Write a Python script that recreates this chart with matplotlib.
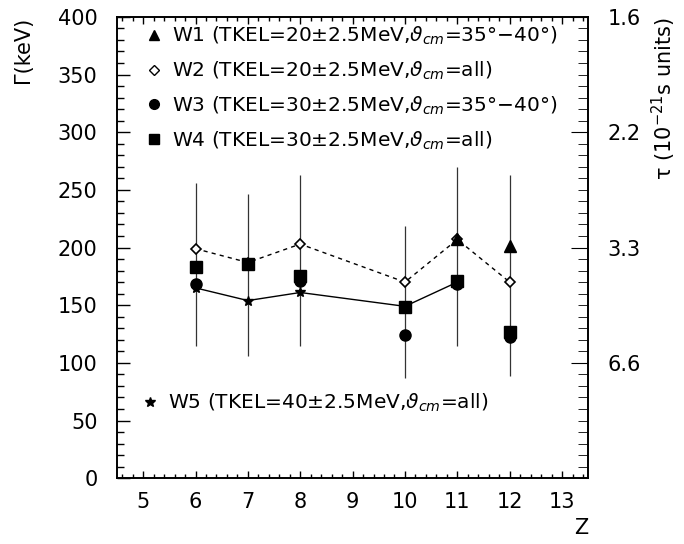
import matplotlib
matplotlib.use("Agg")
import matplotlib.pyplot as plt
from matplotlib.lines import Line2D
from matplotlib.ticker import MultipleLocator, FixedLocator

# data
z_err = [6, 7, 8, 10, 11, 12]
err_lo = [115, 106, 115, 87, 115, 89]
err_hi = [256, 246, 263, 219, 270, 263]

z_w1 = [11, 12]
gamma_w1 = [207, 201]

z_w2 = [6, 7, 8, 10, 11, 12]
gamma_w2 = [199, 187, 203, 170, 207, 170]

z_w3 = [6, 8, 10, 11, 12]
gamma_w3 = [168, 171, 124, 168, 122]

z_w4 = [6, 7, 8, 10, 11, 12]
gamma_w4 = [183, 186, 175, 148, 171, 127]

z_w5 = [6, 7, 8, 10, 11]
gamma_w5 = [165, 154, 161, 149, 170]

tau_ticks = [400, 300, 200, 100]
tau_labels = ["1.6", "2.2", "3.3", "6.6"]

labels = [
    r"W1 (TKEL=20$\pm$2.5MeV,$\vartheta_{cm}$=35°$-$40°)",
    r"W2 (TKEL=20$\pm$2.5MeV,$\vartheta_{cm}$=all)",
    r"W3 (TKEL=30$\pm$2.5MeV,$\vartheta_{cm}$=35°$-$40°)",
    r"W4 (TKEL=30$\pm$2.5MeV,$\vartheta_{cm}$=all)",
    r"W5 (TKEL=40$\pm$2.5MeV,$\vartheta_{cm}$=all)",
]

plt.rcParams['mathtext.fontset'] = 'dejavusans'
fs = 15
lfs = 14.5

fig = plt.figure(figsize=(6.84, 5.44), dpi=100)
ax = fig.add_axes([0.171, 0.121, 0.689, 0.848])

ax.vlines(z_err, err_lo, err_hi, color='#333333', lw=0.9, zorder=1)
ax.plot(z_w5, gamma_w5, color='black', lw=1.0, marker='*', ms=7, zorder=2)
ax.plot(z_w2, gamma_w2, color='black', lw=1.0, ls=(0, (3, 3)), marker='D', ms=5.5,
        mfc='white', mew=1.2, zorder=2)
ax.plot(z_w3, gamma_w3, ls='none', marker='o', ms=8, color='black', zorder=3)
ax.plot(z_w4, gamma_w4, ls='none', marker='s', ms=8, color='black', zorder=3)
ax.plot(z_w1, gamma_w1, ls='none', marker='^', ms=8, color='black', zorder=4)

handles = [
    Line2D([], [], ls='none', marker='^', ms=7, color='black'),
    Line2D([], [], ls='none', marker='D', ms=5, mfc='white', color='black'),
    Line2D([], [], ls='none', marker='o', ms=7, color='black'),
    Line2D([], [], ls='none', marker='s', ms=7, color='black'),
]
leg = ax.legend(handles, labels[:4], loc='upper left', frameon=False, fontsize=lfs,
                handlelength=0.8, handletextpad=0.5, labelspacing=0.62,
                bbox_to_anchor=(0.045, 1.0), borderaxespad=0)
ax.add_artist(leg)
ax.legend([Line2D([], [], ls='none', marker='*', ms=7, color='black')], labels[4:],
          loc='upper left', frameon=False, fontsize=lfs, handlelength=0.8,
          handletextpad=0.5, bbox_to_anchor=(0.035, 0.205), borderaxespad=0)

ax.set_xlim(4.5, 13.5)
ax.set_ylim(0, 400)
ax.xaxis.set_major_locator(MultipleLocator(1))
ax.xaxis.set_minor_locator(MultipleLocator(0.2))
ax.yaxis.set_major_locator(MultipleLocator(50))
ax.yaxis.set_minor_locator(MultipleLocator(10))
ax.tick_params(which='both', direction='in', top=True, labelsize=fs, width=1)
ax.tick_params(axis='x', which='major', length=5, pad=10)
ax.tick_params(axis='y', which='major', length=9, pad=14)
ax.tick_params(which='minor', length=5)
ax.tick_params(axis='x', which='minor', length=3)

ax.set_ylabel("Γ(keV)", loc='top', fontsize=fs, labelpad=18)
ax.set_xlabel("Z", loc='right', fontsize=fs, labelpad=4)

ax2 = ax.twinx()
ax2.set_ylim(0, 400)
ax2.yaxis.set_major_locator(FixedLocator(tau_ticks))
ax2.set_yticklabels(tau_labels)
ax2.yaxis.set_minor_locator(MultipleLocator(10))
ax2.tick_params(which='both', direction='in', labelsize=fs, pad=14)
ax2.tick_params(which='major', length=12)
ax2.tick_params(which='minor', length=7)
ax2.set_ylabel(r"τ (10$^{-21}$s units)", loc='top', fontsize=fs, labelpad=6)

for a in (ax, ax2):
    for s in a.spines.values():
        s.set_linewidth(1.2)

plt.savefig("out.png", dpi=100)
